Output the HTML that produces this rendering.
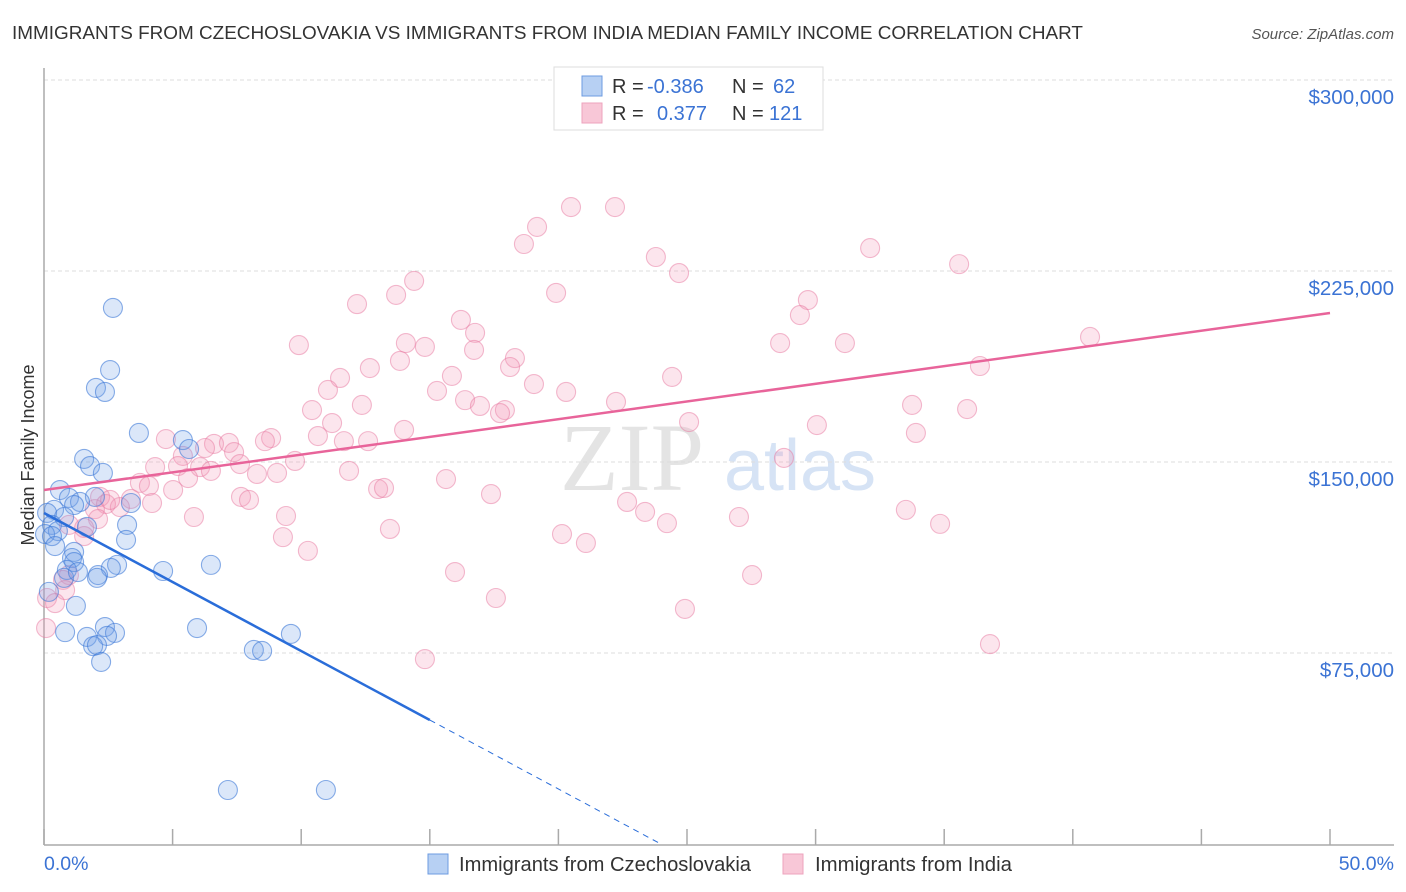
<!DOCTYPE html>
<html><head><meta charset="utf-8">
<style>
body{margin:0;background:#fff;font-family:"Liberation Sans",sans-serif;}
#wrap{position:relative;width:1406px;height:892px;overflow:hidden;}
</style></head>
<body>
<div id="wrap">
<svg id="svg" width="1406" height="892" xmlns="http://www.w3.org/2000/svg">
<text x="12" y="39" font-size="18.5" fill="#333" textLength="1071" lengthAdjust="spacingAndGlyphs">IMMIGRANTS FROM CZECHOSLOVAKIA VS IMMIGRANTS FROM INDIA MEDIAN FAMILY INCOME CORRELATION CHART</text>
<text x="1394" y="39" font-size="15" fill="#555" text-anchor="end" font-style="italic">Source: ZipAtlas.com</text>
<text x="632" y="490" font-size="96" fill="#e4e4e4" text-anchor="middle" font-family="Liberation Serif,serif">ZIP</text>
<text x="800" y="490" font-size="72" fill="#d6e3f5" text-anchor="middle">atlas</text>
<g id="grid"></g>
<g id="axes"></g>
<g id="pts"></g>
<g id="lines"></g>
<text x="34" y="455" font-size="18" fill="#333" text-anchor="middle" transform="rotate(-90 34 455)">Median Family Income</text>
<text x="44" y="870" font-size="19.5" fill="#3b73d4">0.0%</text>
<text x="1394" y="870" font-size="19.5" fill="#3b73d4" text-anchor="end">50.0%</text>
<g>
<rect x="554" y="67" width="269" height="63" fill="#fff" stroke="#ddd"/>
<rect x="582" y="76" width="20" height="20" fill="#b7d0f3" stroke="#6c9be0"/>
<rect x="582" y="103" width="20" height="20" fill="#f8c7d7" stroke="#eea3bd"/>
<text x="612" y="93" font-size="20" fill="#333">R = <tspan fill="#3b73d4" x="647">-0.386</tspan><tspan x="732">N = </tspan><tspan fill="#3b73d4" x="773">62</tspan></text>
<text x="612" y="120" font-size="20" fill="#333">R = <tspan fill="#3b73d4" x="657">0.377</tspan><tspan x="732">N = </tspan><tspan fill="#3b73d4" x="769">121</tspan></text>
</g>
<rect x="428" y="854" width="20" height="20" fill="#b7d0f3" stroke="#6c9be0"/>
<text x="459" y="871" font-size="20" fill="#333" textLength="292" lengthAdjust="spacingAndGlyphs">Immigrants from Czechoslovakia</text>
<rect x="783" y="854" width="20" height="20" fill="#f8c7d7" stroke="#eea3bd"/>
<text x="815" y="871" font-size="20" fill="#333" textLength="197" lengthAdjust="spacingAndGlyphs">Immigrants from India</text>
</svg>
</div>
<script>
const yTicks=[75000,150000,225000,300000];
const yTickLabels=["$75,000","$150,000","$225,000","$300,000"];
const xTicks=[0,5,10,15,20,25,30,35,40,45,50];
const czechX=[2.68,2.57,2.02,2.37,3.69,5.40,5.64,1.56,1.79,2.29,0.62,0.97,1.98,1.40,3.38,1.17,0.39,0.12,0.78,0.31,3.23,0.54,1.67,0.04,0.31,3.19,0.43,1.17,1.09,1.17,2.84,6.49,4.63,0.89,2.60,2.10,2.06,0.78,1.32,0.19,1.24,0.82,5.95,2.37,1.67,2.76,2.45,9.60,1.91,2.06,2.22,8.16,8.48,7.15,10.96];
const czechY=[210.5,186.1,179.1,177.5,161.4,158.6,155.1,151.2,148.4,145.7,139.0,135.9,136.3,134.3,133.9,133.1,131.2,130.0,128.4,125.3,125.3,122.9,124.5,121.7,120.9,119.4,117.0,114.7,112.3,110.7,109.6,109.6,107.2,107.6,108.4,105.6,104.5,104.5,106.8,99.0,93.5,83.2,84.8,85.2,81.3,82.9,81.7,82.5,77.7,78.1,71.5,76.2,75.8,21.2,21.2];
const indiaX=[20.49,22.20,19.17,18.66,23.79,32.12,35.58,24.69,14.39,19.91,13.69,12.17,29.70,29.39,16.21,40.67,16.76,9.91,14.07,14.81,28.62,31.14,16.72,18.31,13.84,12.67,18.12,36.39,24.42,11.51,15.86,19.05,11.04,15.28,20.30,16.37,16.95,10.42,12.36,22.24,17.92,17.73,33.75,35.89,11.20,25.08,30.05,14.00,10.65,33.90,4.74,8.83,8.59,11.66,12.60,6.61,7.19,6.26,7.39,5.40,9.76,4.32,5.21,6.07,7.62,6.49,8.28,9.06,11.86,15.63,28.77,5.60,3.73,4.08,2.18,7.66,7.97,3.38,4.20,2.41,2.95,1.98,12.99,13.22,17.38,22.67,23.37,33.51,9.41,2.10,5.83,27.02,24.22,34.84,0.97,1.56,13.45,20.14,21.07,9.29,1.56,10.26,15.98,27.53,0.97,0.74,0.82,0.12,0.43,17.57,24.92,14.81,36.78,2.57,5.02,0.08];
const indiaY=[250.1,250.1,242.3,235.6,230.5,234.0,227.7,224.2,221.1,216.4,215.6,212.0,213.6,207.7,205.8,199.1,200.7,195.9,196.7,195.2,196.7,196.7,194.0,190.8,189.7,186.9,187.3,187.7,183.4,183.0,183.8,180.6,178.3,177.9,177.5,174.3,172.0,170.4,172.4,173.6,170.4,169.2,172.4,170.8,165.3,165.7,164.5,162.6,160.2,161.4,159.0,159.4,158.2,158.2,158.2,157.1,157.5,155.5,153.9,152.4,150.4,148.0,148.4,148.0,149.2,146.5,145.3,145.7,146.5,143.3,151.6,143.7,141.8,140.6,136.3,136.3,135.1,135.5,133.9,133.5,132.3,131.5,139.4,139.8,137.4,134.3,130.4,131.2,128.8,127.6,128.4,128.4,126.0,125.7,125.3,124.1,123.7,121.7,118.2,120.5,120.9,115.1,106.8,105.6,105.6,103.7,99.7,96.6,94.6,96.6,92.3,72.6,78.5,135.1,139.0,84.8];
const czechTrend=[129974,-5419];
const indiaTrend=[139005,1390];

const NS="http://www.w3.org/2000/svg";
const X0=44,X1=1330,Y0=844,YTOP=80;
function sx(p){return X0+(p/50)*(X1-X0);}
function sy(v){return Y0-(v/300000)*(Y0-YTOP);}
function mk(tag,attrs,parent){const e=document.createElementNS(NS,tag);for(const k in attrs)e.setAttribute(k,attrs[k]);parent.appendChild(e);return e;}
const grid=document.getElementById('grid'),axes=document.getElementById('axes'),pts=document.getElementById('pts'),lines=document.getElementById('lines');
yTicks.forEach((t,i)=>{
  const l=mk('line',{x1:X0,x2:1394,y1:sy(t),y2:sy(t),stroke:'#ddd','stroke-dasharray':'4 3'},grid);
  
  
  const tx=mk('text',{x:1394,y:sy(t)+24,'font-size':20.5,fill:'#3b73d4','text-anchor':'end'},grid);
  tx.textContent=yTickLabels[i];
  
  
});
const ya=mk('line',{x1:X0,x2:X0,y1:68,y2:845,stroke:'#aaa','stroke-width':1.5},axes);


const xa=mk('line',{x1:X0,x2:1394,y1:845,y2:845,stroke:'#aaa','stroke-width':1.5},axes);


xTicks.forEach(t=>{
  const l=mk('line',{x1:sx(t),x2:sx(t),y1:829,y2:845,stroke:'#aaa','stroke-width':1.5},axes);
  
  
});
indiaX.forEach((x,i)=>{
  const c=mk('circle',{cx:sx(x),cy:sy(indiaY[i]*1000),r:9.5,fill:'rgba(242,150,182,0.25)',stroke:'rgba(232,120,160,0.5)','stroke-width':1.1},pts);
  
  
});
czechX.forEach((x,i)=>{
  const c=mk('circle',{cx:sx(x),cy:sy(czechY[i]*1000),r:9.5,fill:'rgba(110,160,230,0.25)',stroke:'rgba(60,120,215,0.6)','stroke-width':1.1},pts);
  
  
});
const cz=x=>czechTrend[0]+czechTrend[1]*x;
const xEnd=-czechTrend[0]/czechTrend[1];
const l1=mk('line',{x1:sx(0),y1:sy(cz(0)),x2:sx(15),y2:sy(cz(15)),stroke:'#2a6dd9','stroke-width':2.5},lines);


const l2=mk('line',{x1:sx(15),y1:sy(cz(15)),x2:sx(xEnd),y2:sy(0),stroke:'#2a6dd9','stroke-width':1,'stroke-dasharray':'6 5'},lines);


const ind=x=>indiaTrend[0]+indiaTrend[1]*x;
const l3=mk('line',{x1:sx(0),y1:sy(ind(0)),x2:sx(50),y2:sy(ind(50)),stroke:'#e8649a','stroke-width':2.5},lines);


</script>
</body></html>
